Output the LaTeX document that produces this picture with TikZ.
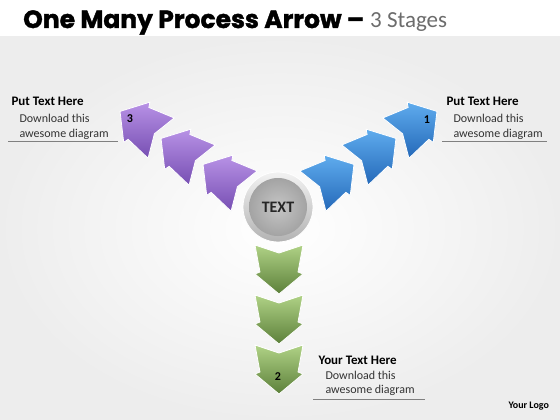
\documentclass[tikz,border=0pt]{standalone}
\usepackage{fontspec}
\setmainfont{Carlito}
\newfontfamily\titlefont{Poppins}[BoldFeatures={FakeBold=1.5}]
\definecolor{bluelight}{RGB}{95,172,238}
\definecolor{bluedark}{RGB}{36,104,184}
\definecolor{purplelight}{RGB}{184,146,230}
\definecolor{purpledark}{RGB}{118,78,178}
\definecolor{greenlight}{RGB}{176,210,134}
\definecolor{greendark}{RGB}{92,128,58}

\begin{document}
\begin{tikzpicture}[x=1pt,y=-1pt,
  procarrow/.pic={
    \path[pic actions] (-24,-24) -- (-16,0) -- (-24,24) -- (3,19) -- (5,24)
      -- (25,0) -- (5,-24) -- (3,-19) -- cycle;
  },
  bluearrow/.style={top color=bluelight, bottom color=bluedark, draw=white, line width=0.8pt},
  purplearrow/.style={top color=purplelight, bottom color=purpledark, draw=white, line width=0.8pt},
  greenarrow/.style={top color=greenlight, bottom color=greendark, draw=white, line width=0.8pt},
  headtext/.style={anchor=base west, font=\fontsize{13}{15}\selectfont\bfseries},
  bodytext/.style={anchor=base west, font=\fontsize{12}{14}\selectfont, text=black!80},
  stagenum/.style={font=\fontsize{12}{14}\selectfont\bfseries},
  rule/.style={draw=gray, line width=0.8pt}]

% background
\fill[white] (0,0) rectangle (560,420);
\shade[inner color=white, outer color=gray!14] (0,37) rectangle (560,420);

% title
\node[anchor=base west, inner sep=0] (title) at (23,28)
  {\titlefont\fontsize{25}{27}\selectfont\bfseries One Many Process Arrow –};
\node[anchor=base west, inner sep=0, text=gray!85!black,
      font=\fontsize{23}{26}\selectfont] (stages) at (370,28) {3 Stages};

% blue arrows (1)
\pic[bluearrow, rotate=33] at (333,178) {procarrow};
\pic[bluearrow, rotate=33] at (375,152) {procarrow};
\pic[bluearrow, rotate=33] at (416,125) {procarrow};

% purple arrows (3)
\pic[purplearrow, rotate=147] at (224,178) {procarrow};
\pic[purplearrow, rotate=147] at (182,152) {procarrow};
\pic[purplearrow, rotate=147] at (141,125) {procarrow};

% green arrows (2)
\pic[greenarrow, rotate=-90] at (279,269) {procarrow};
\pic[greenarrow, rotate=-90] at (279,319) {procarrow};
\pic[greenarrow, rotate=-90] at (279,369) {procarrow};

% centre
\shade[top color=gray!10, bottom color=gray!60, draw=white, line width=0.8pt] (278,207) circle (35);
\node[circle, minimum size=58pt, inner color=gray!45, outer color=gray!72,
      font=\fontsize{16}{18}\selectfont\bfseries, text=black!85] (centre) at (278,207) {TEXT};

% stage numbers
\node[stagenum] (num1) at (427,120) {1};
\node[stagenum] (num2) at (278,377) {2};
\node[stagenum] (num3) at (130,119) {3};

% left text
\node[headtext] (lefthead) at (8,106) {Put Text Here};
\node[bodytext] (leftone) at (16,122) {Download this};
\node[bodytext] (lefttwo) at (16,137) {awesome diagram};
\draw[rule] (8,141) -- (118,141);

% right text
\node[headtext] (righthead) at (443,106) {Put Text Here};
\node[bodytext] (rightone) at (450,122) {Download this};
\node[bodytext] (righttwo) at (450,137) {awesome diagram};
\draw[rule] (442,141) -- (547,141);

% bottom text
\node[headtext] (bottomhead) at (315,364) {Your Text Here};
\node[bodytext] (bottomone) at (322,379) {Download this};
\node[bodytext] (bottomtwo) at (322,393) {awesome diagram};
\draw[rule] (313,399) -- (425,399);

\node[anchor=base west, font=\fontsize{10}{12}\selectfont\bfseries] (logo) at (505,408) {Your Logo};

\end{tikzpicture}
\end{document}
